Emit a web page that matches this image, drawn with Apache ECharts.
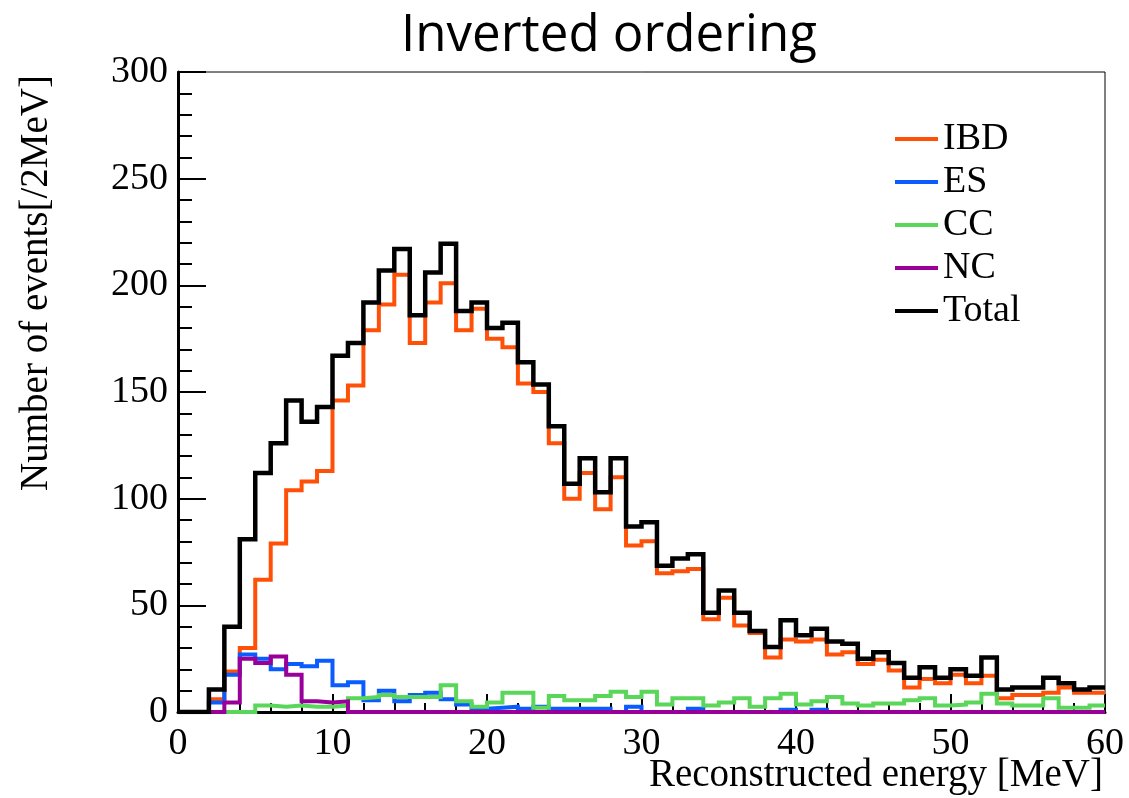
<!DOCTYPE html>
<html>
<head>
<meta charset="utf-8">
<script src="https://cdn.jsdelivr.net/npm/echarts@6/dist/echarts.min.js"></script>
<style>
  html, body { margin: 0; padding: 0; background: #ffffff; }
  #chart { width: 1129px; height: 798px; }
</style>
</head>
<body>
<div id="chart"></div>
<script>
// Bin lower edges (MeV); each bin is 1 MeV wide, 0..60
const binEdges = Array.from({ length: 61 }, (_, i) => i);

// Events per bin for each channel, bins 0-1 ... 59-60
const ibd = [0, 0, 6, 19, 30, 62, 79, 104, 108, 113,
  146, 153, 179, 191, 205, 173, 192, 201, 179, 189,
  175, 171, 154, 150, 126, 100, 112, 95, 110, 78,
  80, 65, 66, 67, 43.5, 53.5, 40.5, 37, 25.5, 34,
  33, 34, 27, 28, 22.5, 24.5, 19.5, 11.5, 15.5, 13.5,
  17.5, 13.5, 17, 6.5, 8, 8, 9, 11.5, 9, 9];

const es = [0, 0, 4.5, 17.5, 27, 25, 20, 22.5, 21.5, 24,
  12.5, 14, 5.5, 10, 5, 8, 9, 6, 3.5, 1.5,
  2, 2.5, 1.5, 2.5, 1.5, 1.5, 1.5, 1.5, 0, 2.5,
  0, 0, 0, 1.5, 0, 0, 0, 0, 0, 1,
  0, 1, 0, 0, 0, 0, 0, 0, 0, 0,
  0, 0, 0, 0, 0, 0, 0, 0, 0, 0];

const cc = [0, 0, 0, 0, 0, 3, 2.5, 3, 2.5, 2.5,
  3, 6.5, 7, 8, 7, 7, 7, 12.5, 5, 2.5,
  4.5, 9, 9, 2, 7.5, 5.5, 5.5, 7.5, 9.5, 7,
  9.5, 3.5, 6.5, 6.5, 3, 4.5, 6.5, 2.5, 6.5, 8.5,
  3.5, 5, 7, 4, 3, 4, 4, 5.5, 6.5, 3,
  3.5, 4.5, 8.5, 4, 3, 3, 6.5, 2, 2, 3];

const nc = [0, 0, 0, 4.5, 25, 23, 26, 17.5, 5, 4.5,
  5, 0, 0, 0, 0, 0, 0, 0, 0, 0,
  0, 0, 0, 0, 0, 0, 0, 0, 0, 0,
  0, 0, 0, 0, 0, 0, 0, 0, 0, 0,
  0, 0, 0, 0, 0, 0, 0, 0, 0, 0,
  0, 0, 0, 0, 0, 0, 0, 0, 0, 0];

const total = [0, 0, 10.5, 40, 81, 112, 126, 146, 136, 143,
  167, 173, 192, 207, 217, 186, 206, 219.5, 188, 192,
  180, 182.5, 164, 153.5, 134, 107, 119, 103, 119, 87,
  89, 68.5, 72, 74, 46.5, 57, 46.5, 38, 30.5, 43,
  36, 39, 33, 32, 25, 28, 23, 16, 21, 16,
  20, 17, 25.5, 10.5, 11.5, 11.5, 16, 13.5, 10.5, 11.5];

const seriesNames = ['IBD', 'ES', 'CC', 'NC', 'Total'];
const seriesColors = ['#ff5008', '#0a5cff', '#5ad65a', '#990099', '#000000'];

// Histogram outline: one point per bin edge, the last bin held to x = 60
function steps(values) {
  const pts = values.map((v, i) => [binEdges[i], v]);
  pts.push([binEdges[values.length], values[values.length - 1]]);
  return pts;
}

const serifFont = '"Liberation Serif", "DejaVu Serif", serif';
const chart = echarts.init(document.getElementById('chart'), null, { renderer: 'canvas' });

const lists = [ibd, es, cc, nc, total];
const series = lists.map((vals, k) => ({
  name: seriesNames[k],
  type: 'line',
  step: 'end',
  data: steps(vals),
  symbol: 'none',
  lineStyle: { color: seriesColors[k], width: k === 4 ? 4.5 : 4, join: 'miter', cap: 'butt' },
  itemStyle: { color: seriesColors[k] },
  emphasis: { disabled: true },
  animation: false,
  z: 2 + k
}));

chart.setOption({
  backgroundColor: '#ffffff',
  animation: false,
  legend: {
    orient: 'vertical',
    left: 890,
    top: 115,
    icon: 'rect',
    itemWidth: 43,
    itemHeight: 4,
    itemGap: 5,
    data: seriesNames,
    textStyle: {
      fontFamily: serifFont,
      fontSize: 38,
      lineHeight: 38,
      color: '#000000',
      padding: [0, 0, 0, 0]
    }
  },
  grid: {
    left: 178,
    top: 72,
    width: 927,
    height: 640,
    show: true,
    borderColor: '#000000',
    borderWidth: 1,
    backgroundColor: 'transparent'
  },
  xAxis: {
    type: 'value',
    min: 0,
    max: 60,
    interval: 10,
    axisLine: { show: true, lineStyle: { color: '#000000', width: 3 } },
    axisTick: { show: true, inside: true, length: 18, lineStyle: { color: '#000000', width: 2 } },
    minorTick: { show: true, splitNumber: 5, length: 9, lineStyle: { color: '#000000', width: 2 } },
    splitLine: { show: false },
    axisLabel: {
      margin: 13,
      fontFamily: serifFont,
      fontSize: 38,
      color: '#000000'
    }
  },
  yAxis: {
    type: 'value',
    min: 0,
    max: 300,
    interval: 50,
    axisLine: { show: true, lineStyle: { color: '#000000', width: 3 } },
    axisTick: { show: true, inside: true, length: 28, lineStyle: { color: '#000000', width: 2 } },
    minorTick: { show: true, splitNumber: 5, length: 14, lineStyle: { color: '#000000', width: 2 } },
    splitLine: { show: false },
    axisLabel: {
      margin: 10,
      fontFamily: serifFont,
      fontSize: 38,
      color: '#000000'
    }
  },
  graphic: [
    {
      type: 'text',
      x: 609,
      y: 11,
      style: {
        text: 'Inverted ordering',
        font: '51px "Open Sans", "Liberation Sans", sans-serif',
        fill: '#000000',
        align: 'center',
        verticalAlign: 'top'
      }
    },
    {
      type: 'text',
      x: 1103,
      y: 756,
      style: {
        text: 'Reconstructed energy [MeV]',
        font: '39px ' + serifFont,
        fill: '#000000',
        align: 'right',
        verticalAlign: 'top'
      }
    },
    {
      type: 'text',
      x: 17,
      y: 75,
      rotation: Math.PI / 2,
      style: {
        text: 'Number of events[/2MeV]',
        font: '39px ' + serifFont,
        fill: '#000000',
        align: 'right',
        verticalAlign: 'top'
      }
    }
  ],
  series: series
});
</script>
</body>
</html>
